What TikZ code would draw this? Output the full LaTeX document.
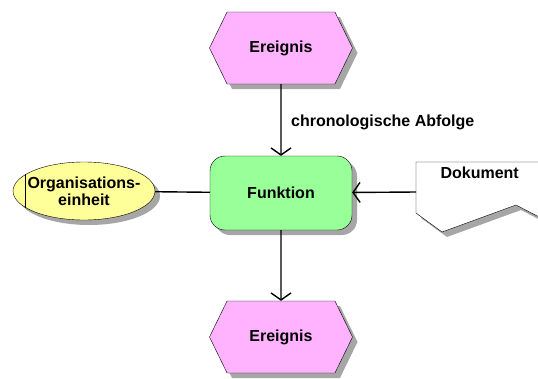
\documentclass[tikz,border=0pt]{standalone}
\usepackage{fontspec}
\setmainfont{Liberation Sans}
\usetikzlibrary{arrows.meta,positioning,shapes.geometric,shapes.symbols,shadows}
\definecolor{evtpink}{HTML}{FFB3FF}
\definecolor{fktgreen}{HTML}{99FF99}
\definecolor{orgyellow}{HTML}{FFFF99}
\definecolor{shdgray}{HTML}{A6A6A6}

\begin{document}
\begin{tikzpicture}[x=1pt,y=-1pt,
  shd/.style={drop shadow={shadow xshift=5pt,shadow yshift=-5pt,
              fill=shdgray,opacity=1}},
  txt/.style={font=\fontsize{16}{19}\selectfont\bfseries},
  evt/.style={signal,signal to=west and east,signal pointer angle=128,
              draw,fill=evtpink,minimum width=143pt,minimum height=72pt,
              shd,txt},
  fkt/.style={draw,fill=fktgreen,rounded corners=15pt,minimum width=142pt,
              minimum height=74pt,shd,txt},
  org/.style={ellipse,draw,fill=orgyellow,minimum width=142pt,
              minimum height=58pt,inner xsep=-11pt,inner ysep=0pt,
              align=center,shd,txt},
  arr/.style={-{Straight Barb[length=7pt,width=20pt]},line width=1.4pt},
  lin/.style={line width=1.4pt},
  lab/.style={txt,anchor=west,inner sep=0pt}]
  \useasboundingbox (0,0) rectangle (538,378);
  \node[evt] (e1) at (281,48) {Ereignis};
  \node[fkt] (f) at (281,193) {Funktion};
  \node[evt] (e2) at (281,337) {Ereignis};
  \node[org] (o) at (84,191) {Organisations-\\[-2pt]einheit};
  \draw (o.164) -- (o.196);
  % document symbol, right edge cut off by the page
  \fill[shdgray] (421,167) -- (550,167) -- (550,225) -- (521,210)
    -- (447,237) -- (421,218) -- cycle;
  \draw[fill=white] (416,162) -- (545,162) -- (545,220) -- (516,205)
    -- (442,232) -- (416,213) -- cycle;
  \node[txt,anchor=west] (d) at (437,173) {Dokument};
  \coordinate (dw) at (416,192);
  \draw[arr] (e1) -- (f);
  \node[lab] (c) at (291,122) {chronologische Abfolge};
  \draw[arr] (f) -- (e2);
  \draw[lin] (o) -- (f);
  \draw[arr] (dw) -- (f);
\end{tikzpicture}
\end{document}
